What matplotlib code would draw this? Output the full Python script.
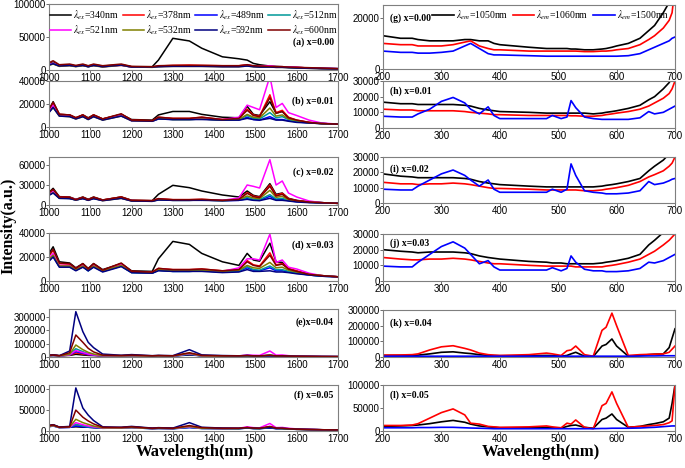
import matplotlib
matplotlib.use("Agg")
import matplotlib.pyplot as plt

plt.rcParams["font.family"] = "Liberation Sans"
plt.rcParams["mathtext.fontset"] = "stix"

# excitation spectra grid (left column) and emission grid (right column)
WL = [1000, 1010, 1025, 1050, 1065, 1082, 1095, 1108, 1130, 1175, 1200, 1250, 1265, 1300, 1340,
      1370, 1420, 1460, 1480, 1495, 1510, 1535, 1550, 1565, 1580, 1600, 1630, 1660, 1700]
WR = [200, 230, 250, 260, 280, 300, 320, 340, 350, 365, 380, 390, 400, 450, 480, 490, 505,
      515, 522, 530, 545, 560, 575, 582, 592, 600, 620, 640, 655, 665, 680, 690, 695, 700]

EX_LABELS = ["340", "378", "489", "512", "521", "532", "592", "600"]
EM_LABELS = ["1050", "1060", "1500"]

# (a) x=0.00
A_340 = [9000,12000,7000,8000,6000,8000,6000,8000,6000,8000,5000,5000,15000,48000,44000,33000,20000,17000,15000,10000,8000,6000,5500,5000,4500,4000,3000,2500,2000]
A_378 = [9000,11000,6500,7500,6000,7500,5500,7500,5500,8000,5000,4500,6000,7000,7500,7000,6500,6500,8000,6000,5500,5500,5000,5000,4500,4000,3000,2500,2000]
A_489 = [8000,10000,6000,7000,5500,7000,5000,7000,5000,7500,4500,4500,5500,6000,6000,6000,5500,5500,6500,5500,5000,5000,4500,4500,4000,3500,3000,2500,2000]
A_512 = [8500,10500,6000,7000,5500,7000,5000,7000,5000,7500,4500,4500,5500,6000,6000,6000,5500,5500,7000,5500,5000,5000,4500,4500,4000,3500,3000,2500,2000]
A_521 = [8000,10000,6000,7000,5500,7000,5500,7000,5000,7000,4500,4500,5500,6000,6000,6000,5500,5500,7500,6000,5500,6500,5000,5000,4500,4000,3000,2500,2000]
A_532 = [7000,9000,5500,6500,5000,6500,5000,6500,4500,7000,4500,4000,5000,5500,5500,5500,5000,5000,6000,5000,4500,4500,4000,4000,3500,3000,2500,2000,1500]
A_592 = [7500,9500,6000,7000,5500,7000,5000,7000,5000,7500,4500,4500,5000,5500,5500,5500,5000,5000,6000,5000,4500,4500,4000,4000,3500,3000,2500,2000,1500]
A_600 = [11000,14000,8000,9000,7000,9000,6500,9000,6500,9000,5500,5000,6500,7000,7000,7000,6500,6500,8000,6500,6000,5500,5000,5000,4500,4000,3500,3000,2000]

# (b) x=0.01
B_340 = [15000,22000,11000,10500,8000,10500,8000,10500,7000,11000,6500,6000,10500,13500,13500,11000,8500,8000,18000,11000,10000,22000,12000,13500,8000,5500,4000,3000,2500]
B_378 = [15000,21000,11000,10500,8000,10500,7500,10500,7000,11000,6000,5500,8500,7500,7500,8500,6500,7500,15500,10500,9500,28000,12500,14500,8500,6000,4000,3000,2500]
B_489 = [13000,18000,10000,9500,7500,9500,7000,9500,6500,10000,5500,5000,7000,6500,6500,7000,6000,6000,8500,6500,6000,9000,6500,6500,5500,4500,3500,3000,2500]
B_512 = [13500,18500,10000,9500,7500,9500,7000,9500,6500,10000,5500,5000,7500,6500,6500,7000,6000,6500,10000,7500,7000,12500,8000,9000,6500,5000,3500,3000,2500]
B_521 = [14000,19000,10000,9500,7500,9500,7000,9500,6500,10000,5500,5000,8000,7000,7000,7500,6500,8500,19000,17000,15000,44000,17000,20500,12500,10000,6000,3500,2500]
B_532 = [13000,17000,9500,9000,7000,9000,6500,9000,6000,9500,5500,5000,7500,6500,6500,7000,6000,6500,11000,8500,8000,16500,9500,10500,7000,5500,3500,3000,2500]
B_592 = [12500,17000,9500,9000,7000,9000,6500,9000,6000,9500,5500,5000,7000,6500,6500,6500,6000,6000,7500,6500,6000,7500,6000,6000,5000,4000,3500,3000,2500]
B_600 = [15500,21500,11000,10500,8000,10500,7500,10500,7000,11500,6000,5500,8500,7500,7500,8500,6500,7500,14500,10000,9000,25500,12000,13500,8000,6000,4000,3000,2500]

# (c) x=0.02
C_340 = [19000,25000,12500,12000,8500,12000,8500,12000,7500,12000,7000,6500,16000,29500,26000,21000,15000,12000,21000,14500,12500,32000,16000,18000,10000,7000,4500,3500,2500]
C_378 = [18000,23000,12000,11500,8000,11500,8000,11500,7500,12000,7000,6500,9500,8000,8000,8500,7000,8500,18500,13500,11500,30000,14500,17500,9500,6500,4500,3500,2500]
C_489 = [15000,19000,10500,10000,7500,10000,7500,10000,7000,10500,6500,6000,8000,7000,7000,7500,6500,7000,9500,7500,7000,13000,8000,8500,6500,5000,4000,3500,2500]
C_512 = [15500,19500,10500,10000,7500,10000,7500,10000,7000,10500,6500,6000,8000,7000,7000,7500,6500,7500,11500,8500,8000,15500,9000,10000,7000,5500,4000,3500,2500]
C_521 = [16000,20000,11000,11000,8000,10500,7500,10500,7000,10500,6500,6000,8500,7500,7500,7500,7000,10500,30000,28000,25500,68000,30000,36000,18000,12000,6000,3500,2500]
C_532 = [15000,18500,10000,10000,7500,10000,7000,10000,6500,10000,6000,5500,8000,7000,7000,7500,6500,8000,13500,10500,9500,22000,11500,13000,8000,6000,4000,3500,2500]
C_592 = [14500,18000,10000,9500,7500,9500,7000,9500,6500,10000,6000,5500,7500,7000,7000,7000,6500,7000,8500,7000,6500,10000,7000,7000,6000,4500,3500,3000,2500]
C_600 = [18500,23500,12000,11500,8000,11500,8000,11500,7500,12000,7000,6500,9500,8000,8000,8500,7000,8500,17500,12500,11000,28000,13500,16000,9000,6500,4500,3500,2500]

# (d) x=0.03
D_340 = [23000,28500,16000,15000,11000,14500,10500,14500,9500,14500,8500,8000,18500,33000,30500,23000,16000,13000,23000,17500,16500,31500,16000,15500,10000,8000,5500,4500,3500]
D_378 = [21000,25500,14500,14000,10500,14000,10000,14000,9000,14500,8000,7500,10500,9500,9500,10000,8500,9500,17000,13500,12500,23500,13500,14500,10500,8500,5500,4500,3500]
D_489 = [17000,20500,12000,12000,9000,12000,8500,12000,8000,12500,7000,6500,9000,8000,8000,8500,7500,8000,11000,9000,8500,11000,8500,8500,7500,6500,5000,4000,3500]
D_512 = [17500,21000,12000,12000,9000,12000,8500,12000,8000,12500,7000,6500,9000,8000,8000,8500,7500,8500,12000,9500,9000,12500,9500,9500,8000,7000,5000,4000,3500]
D_521 = [19000,23000,13000,13000,10000,13000,9500,13000,8500,13500,7500,7000,10000,9000,9000,9000,8000,11000,18500,18500,17500,39000,15500,17500,11500,10000,6500,4500,3500]
D_532 = [18000,21500,12500,12500,9500,12500,9000,12500,8500,13000,7500,7000,9500,8500,8500,9000,8000,9000,13000,11000,10500,15500,11000,11500,9000,7500,5500,4500,3500]
D_592 = [16500,20000,11500,11500,8500,11500,8500,11500,7500,12000,7000,6500,8500,8000,8000,8000,7000,7500,9500,8000,8000,8500,7500,7500,7000,6000,5000,4000,3500]
D_600 = [21500,26500,15000,14500,10500,14500,10000,14500,9000,15000,8000,7500,10500,9500,9500,10000,8500,9500,16000,13000,12000,21500,13000,14000,10000,8000,5500,4500,3500]

# (e) x=0.04
E_340 = [12000,16000,10000,12000,20000,15000,12000,11000,9000,10000,12000,8000,10000,8000,15000,10000,8000,7000,9000,7000,7000,9000,7000,7000,6000,5000,4000,3000,2500]
E_378 = [11000,14000,9000,14000,30000,22000,16000,13000,9000,9000,11000,7000,9000,7000,25000,9000,7000,7000,10000,8000,7000,12000,7000,7000,6000,5000,4000,3000,2500]
E_489 = [9000,11000,8000,15000,40000,28000,18000,14000,8000,8000,9000,6000,7000,6000,20000,8000,6000,6000,8000,6000,6000,8000,6000,6000,5000,4000,3500,3000,2500]
E_512 = [9000,11000,8000,18000,62000,40000,25000,18000,9000,8000,9000,6000,7000,6000,22000,8000,6000,6000,9000,7000,6000,12000,7000,6500,5500,4500,3500,3000,2500]
E_521 = [10000,12000,8500,16000,48000,33000,22000,16000,9000,9000,10000,7000,8000,7000,25000,9000,7000,8000,15000,13000,12000,45000,14000,15000,10000,7000,5000,3500,2500]
E_532 = [10000,12000,8500,20000,90000,55000,35000,22000,10000,9000,10000,7000,8000,7000,28000,9000,7000,7000,10000,8000,7000,15000,8000,8000,6500,5000,4000,3000,2500]
E_592 = [13000,16000,10000,45000,340000,190000,110000,70000,22000,13000,18000,10000,12000,10000,55000,16000,11000,9000,12000,9000,9000,12000,9000,9000,7000,5500,4500,3500,3000]
E_600 = [12000,15000,9500,32000,165000,110000,65000,38000,14000,11000,14000,9000,11000,9000,32000,12000,9000,8500,11000,8500,8500,12000,8500,8500,7000,5500,4500,3500,3000]

# (f) x=0.05
F_340 = [13000,15000,9000,9000,10000,9000,9000,8000,7000,8000,10000,6000,7000,6000,9000,7000,6000,6000,7000,6000,6000,7000,6000,6000,5000,4000,3500,3000,2500]
F_378 = [12000,14000,8500,9000,15000,12000,10000,9000,7000,7500,9000,6000,6500,6000,10000,7000,6000,6000,8000,6500,6000,10000,6000,6000,5000,4000,3500,3000,2500]
F_489 = [10000,12000,8000,8500,12000,10000,9000,8000,6500,7000,8000,5500,6000,5500,8000,6000,5500,5500,7000,6000,5500,8000,5500,5500,4500,4000,3500,3000,2500]
F_512 = [10500,12500,8000,9000,16000,12000,10000,9000,6500,7000,8000,5500,6000,5500,9000,6000,5500,5500,7500,6000,5500,9000,6000,5500,4500,4000,3500,3000,2500]
F_521 = [11000,13000,8500,9000,20000,15000,12000,10000,7000,7500,8500,6000,6500,6000,10000,6500,6000,6500,10000,8000,7500,18000,8000,8500,6500,5000,4000,3000,2500]
F_532 = [11000,13000,8500,9500,28000,20000,16000,12000,7500,7500,8500,6000,6500,6000,11000,6500,6000,6000,8000,6500,6000,10000,6500,6000,5000,4000,3500,3000,2500]
F_592 = [13000,15000,9500,11000,103000,55000,38000,25000,10000,9000,11000,7000,8000,7000,20000,9000,7000,6500,8000,7000,6500,9000,6500,6500,5500,4500,3500,3000,2500]
F_600 = [12500,14500,9000,10000,50000,33000,24000,17000,9000,8500,10000,6500,7500,6500,13000,8000,6500,6500,8500,7000,6500,11000,7000,6500,5500,4500,3500,3000,2500]

# (g) x=0.00
G_1050 = [13000,12000,12000,11500,11000,11000,11000,11500,11500,11000,11000,10000,9500,8500,8000,8000,8000,8000,7800,7800,7500,7500,7800,8000,8500,9000,10000,12000,15000,17000,22000,26000,30000,34000]
G_1060 = [10000,9500,9500,9000,9000,9000,9500,10500,11000,9000,8000,7500,7500,7000,7000,7000,7000,7000,7000,7000,6800,6800,7000,7000,7200,7500,8000,9500,11500,13000,16000,19000,22000,32000]
G_1500 = [7000,6500,6500,6200,6200,6500,7000,9000,10000,8000,6000,5500,5500,5200,5000,5000,5000,5000,5000,5000,5000,5000,5000,5000,5000,5000,5200,6000,7500,8500,10000,11000,12000,12500]

# (h) x=0.01
H_1050 = [16500,15500,15500,15000,15000,15000,15000,14500,14000,12500,11500,11000,10500,10000,9500,9500,9500,9500,9500,9500,9500,9000,9500,10000,10500,11000,12500,14500,18000,20000,25000,29000,32000,34000]
H_1060 = [12000,11500,11500,11000,11000,11000,11000,10500,10000,9500,9000,8500,8500,8000,8000,8000,8000,8000,7800,7800,7500,7500,8000,8500,9000,9500,10500,12000,14000,16000,19000,22000,25000,30000]
H_1500 = [7500,7000,7000,9000,12000,17000,19500,16000,12000,9000,13500,8000,6000,6000,6000,8000,6000,7000,17500,13000,7000,6000,5500,5500,5500,5500,5500,6500,10500,9000,10000,12000,13000,14000]

# (i) x=0.02
I_1050 = [19000,17500,17000,16500,16500,16500,16500,16000,15500,14000,13000,12500,12000,11000,10500,10500,10500,10500,10500,10500,10500,10500,11000,11500,12000,12500,14000,16000,21000,24000,28000,32000,34000,36000]
I_1060 = [13500,12500,12500,12000,12500,12500,13000,12500,12000,11000,10000,9500,9500,9000,8500,8500,8500,8500,8500,8500,8000,8000,8500,9000,9500,10000,11500,14000,17000,18500,21000,24000,26000,30000]
I_1500 = [9000,8500,8500,11000,15000,19000,21500,18000,15000,11000,15000,9000,7000,7000,7000,9000,7000,9000,25500,18000,8000,7000,6500,6000,6000,6000,6500,8000,14000,12000,13000,14500,15500,16000]

# (j) x=0.03
J_1050 = [20000,19000,18500,18000,18500,18500,18500,18000,17500,16000,15000,14500,14000,12500,12000,11500,11500,11000,11000,11000,11000,11000,11500,12000,12500,13000,14500,17000,23000,26000,31000,34000,36000,38000]
J_1060 = [15000,14000,13500,13500,14000,14000,14500,14000,13500,12500,11500,11000,11000,10000,9500,9500,9500,9500,9500,9000,9000,9000,9000,9500,10000,10500,12000,14000,17000,19000,23000,26000,28000,30000]
J_1500 = [9500,9000,9000,12000,17000,22000,25000,21000,17000,11000,13000,9000,7000,7000,7000,8500,6500,8000,16000,12000,7500,6500,6500,6000,6000,6000,6500,8000,12000,11500,13000,15000,16000,17000]

# (k) x=0.04
K_1050 = [10000,10000,10000,12000,20000,30000,33000,25000,22000,15000,10000,9000,8000,8000,10000,9000,5000,10000,20000,30000,5000,3000,70000,80000,115000,70000,5000,10000,15000,18000,20000,60000,120000,180000]
K_1060 = [12000,13000,15000,20000,45000,65000,72000,55000,45000,25000,15000,12000,10000,15000,25000,20000,10000,40000,45000,70000,15000,5000,170000,190000,280000,200000,10000,15000,17000,18000,20000,30000,50000,70000]
K_1500 = [5000,5000,5000,5000,5000,5000,5000,5000,5000,5000,5000,5000,5000,5000,5000,5000,5000,5000,5000,5000,5000,5000,5000,5000,5000,5000,5000,6000,7000,7000,8000,8000,8000,8000]

# (l) x=0.05
L_1050 = [10000,11000,12000,13000,16000,20000,23000,19000,15000,11000,9000,8000,7000,7000,8000,7000,6000,10000,12000,13000,8000,6000,25000,28000,37000,25000,8000,10000,14000,16000,20000,28000,60000,100000]
L_1060 = [12000,12000,13000,16000,28000,40000,48000,35000,17000,15000,10000,9000,8000,9000,11000,9000,7000,17000,15000,24000,8000,5000,55000,60000,85000,60000,8000,10000,11000,12000,14000,18000,22000,100000]
L_1500 = [7000,7000,7000,7500,7500,8000,8000,7000,6500,6000,5500,5000,5000,5000,5000,5000,5000,5000,5000,5000,5000,5000,5500,5500,6000,6000,6000,6500,7500,8000,9500,10500,11000,11000]

EX_COLORS = ["black", "red", "blue", "#009999", "magenta", "#808000", "#000080", "#800000"]
EM_COLORS = ["black", "red", "blue"]

W, H = 685, 468
fig = plt.figure(figsize=(6.85, 4.68), dpi=100)


def panel(left, right, top, bottom):
    ax = fig.add_axes([left / W, 1 - bottom / H, (right - left) / W, (bottom - top) / H])
    for s in ax.spines.values():
        s.set_color("#7f7f7f")
        s.set_linewidth(0.8)
    ax.tick_params(labelsize=7, length=2, width=0.6, pad=0.5, color="#555555")
    return ax


left_panels = [
    ([A_340, A_378, A_489, A_512, A_521, A_532, A_592, A_600], (4, 70), 100000, [0, 50000, 100000], "(a) x=0.00", 0.42),
    ([B_340, B_378, B_489, B_512, B_521, B_532, B_592, B_600], (81, 127), 40000, [0, 20000, 40000], "(b) x=0.01", 0.56),
    ([C_340, C_378, C_489, C_512, C_521, C_532, C_592, C_600], (157, 205), 72000, [0, 30000, 60000], "(c) x=0.02", 0.69),
    ([D_340, D_378, D_489, D_512, D_521, D_532, D_592, D_600], (233, 281), 40000, [0, 20000, 40000], "(d) x=0.03", 0.75),
    ([E_340, E_378, E_489, E_512, E_521, E_532, E_592, E_600], (309, 357), 360000, [0, 100000, 200000, 300000], "(e)x=0.04", 0.73),
    ([F_340, F_378, F_489, F_512, F_521, F_532, F_592, F_600], (385, 431), 110000, [0, 50000, 100000], "(f) x=0.05", 0.78),
]

right_panels = [
    ([G_1050, G_1060, G_1500], (5, 69), 25000, [0, 20000], "(g) x=0.00", 0.80),
    ([H_1050, H_1060, H_1500], (81, 128), 30000, [0, 10000, 20000, 30000], "(h) x=0.01", 0.79),
    ([I_1050, I_1060, I_1500], (157, 203), 30000, [0, 10000, 20000, 30000], "(i) x=0.02", 0.74),
    ([J_1050, J_1060, J_1500], (234, 281), 30000, [0, 10000, 20000, 30000], "(j) x=0.03", 0.80),
    ([K_1050, K_1060, K_1500], (310, 357), 300000, [0, 100000, 200000, 300000], "(k) x=0.04", 0.72),
    ([L_1050, L_1060, L_1500], (385, 431), 100000, [0, 50000, 100000], "(l) x=0.05", 0.78),
]

serif = "Liberation Serif"

for i, (curves, (t, b), ymax, yt, tag, ty) in enumerate(left_panels):
    ax = panel(49, 338, t, b)
    lines = []
    for c, y, lab in zip(EX_COLORS, curves, EX_LABELS):
        ln, = ax.plot(WL, y, color=c, lw=1.1, label=r"$\lambda_{ex}$=" + lab + "nm")
        lines.append(ln)
    ax.set_xlim(1000, 1700)
    ax.set_ylim(0, ymax)
    ax.set_xticks(range(1000, 1701, 100))
    ax.set_yticks(yt)
    ax.text(0.985, ty, tag, transform=ax.transAxes, ha="right", va="center",
            fontsize=7, fontweight="bold", family=serif)
    if i == 0:
        # legend is filled column by column, so interleave to read row-wise
        order = [0, 4, 1, 5, 2, 6, 3, 7]
        ax.legend([lines[k] for k in order], [lines[k].get_label() for k in order],
                  loc="upper center", bbox_to_anchor=(0.5, 1.07), ncol=4, frameon=False,
                  handlelength=2.2, handletextpad=0.2, columnspacing=0.4,
                  labelspacing=0.15, prop={"family": serif, "size": 7})

for i, (curves, (t, b), ymax, yt, tag, ty) in enumerate(right_panels):
    ax = panel(383, 675, t, b)
    for c, y, lab in zip(EM_COLORS, curves, EM_LABELS):
        ax.plot(WR, y, color=c, lw=1.2, label=r"$\lambda_{em}$=" + lab + "nm")
    ax.set_xlim(200, 700)
    ax.set_ylim(0, ymax)
    ax.set_xticks(range(200, 701, 100))
    ax.set_yticks(yt)
    ax.text(0.025, ty, tag, transform=ax.transAxes, ha="left", va="center",
            fontsize=7, fontweight="bold", family=serif)
    if i == 0:
        ax.legend(loc="upper right", bbox_to_anchor=(1.01, 1.08), ncol=3, frameon=False,
                  handlelength=2.2, handletextpad=0.2, columnspacing=0.5,
                  prop={"family": serif, "size": 7})

fig.text(0.013, 0.517, "Intensity(a.u.)", rotation=90, ha="center", va="center",
         fontsize=11.5, fontweight="bold", family=serif)
fig.text(0.284, 0.034, "Wavelength(nm)", ha="center", va="center",
         fontsize=12, fontweight="bold", family=serif)
fig.text(0.79, 0.034, "Wavelength(nm)", ha="center", va="center",
         fontsize=12, fontweight="bold", family=serif)

fig.savefig("out.png", dpi=100)
